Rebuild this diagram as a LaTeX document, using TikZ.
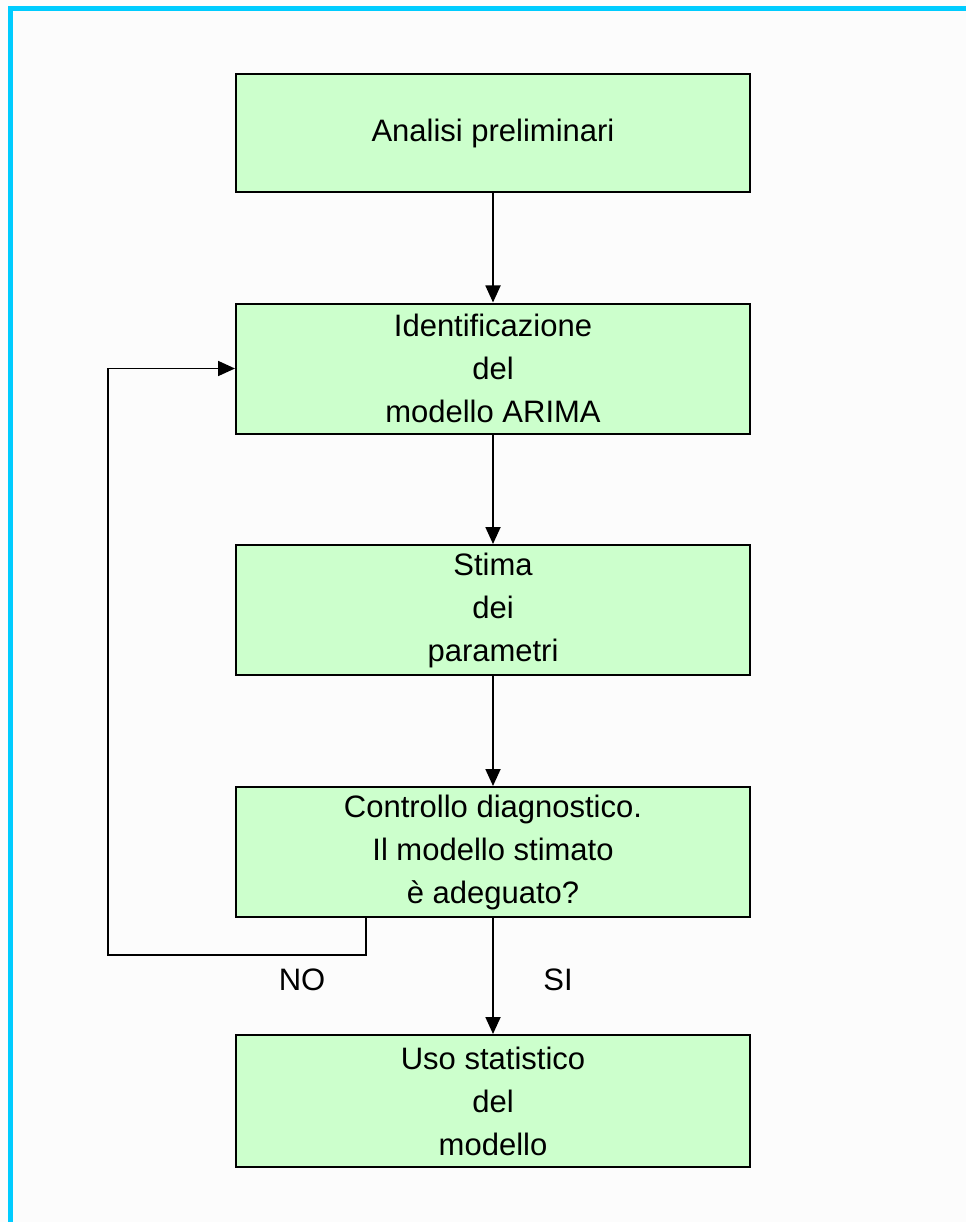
\documentclass[tikz,border=0pt]{standalone}
\usepackage{fontspec}
\setmainfont{Liberation Sans}
\usetikzlibrary{arrows.meta}
\definecolor{framecyan}{HTML}{00CCFF}
\definecolor{boxgreen}{HTML}{CCFFCC}
\begin{document}
\begin{tikzpicture}[x=1pt,y=-1pt,
    box/.style={draw=black,line width=2pt,fill=boxgreen,minimum width=514pt,
      minimum height=130pt,inner sep=0pt,align=center,font=\fontsize{31}{43}\selectfont},
    flow/.style={line width=1.8pt,-{Triangle[length=17pt,width=15pt]}},
    lbl/.style={font=\fontsize{31}{43}\selectfont}]
    \useasboundingbox (0,0) rectangle (966,1222);
    \fill[white!99!black] (0,0) rectangle (966,1222);
    \fill[framecyan] (8,6) rectangle (966,11);
    \fill[framecyan] (8,6) rectangle (13,1222);
    \node[box,minimum height=118pt] (prelim) at (493,133) {Analisi preliminari};
    \node[box] (ident) at (493,368.5) {Identificazione\\del\\modello ARIMA};
    \node[box] (stima) at (493,610) {Stima\\dei\\parametri};
    \node[box] (diag) at (493,852) {Controllo diagnostico.\\Il modello stimato\\è adeguato?};
    \node[box,minimum height=132pt] (uso) at (493,1101) {Uso statistico\\del\\modello};
    \draw[flow] (prelim) -- (ident);
    \draw[flow] (ident) -- (stima);
    \draw[flow] (stima) -- (diag);
    \draw[flow] (diag) -- (uso);
    % ritorno se il modello non va
    \coordinate (nocorner) at (108,955);
    \draw[flow] (diag.south -| 366,0) |- (nocorner) |- (ident.west);
    \node[lbl] (no) at (302,980) {NO};
    \node[lbl] (si) at (558,980) {SI};
\end{tikzpicture}
\end{document}
